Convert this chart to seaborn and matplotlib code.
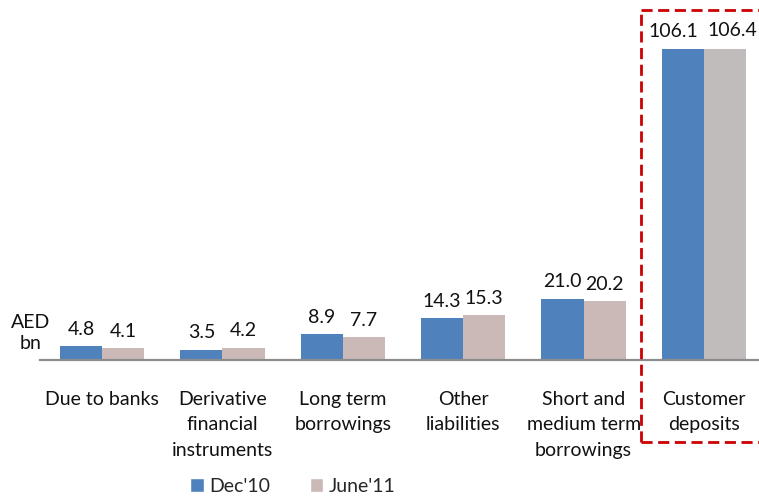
import matplotlib
matplotlib.use("Agg")
import matplotlib.pyplot as plt
import seaborn as sns
import pandas as pd
from matplotlib.lines import Line2D
from matplotlib.patches import Patch

categories = ["Due to banks", "Derivative\nfinancial\ninstruments", "Long term\nborrowings",
              "Other\nliabilities", "Short and\nmedium term\nborrowings", "Customer\ndeposits"]
periods = ["Dec'10", "June'11"]
dec10 = [4.8, 3.5, 8.9, 14.3, 21.0, 106.1]
june11 = [4.1, 4.2, 7.7, 15.3, 20.2, 106.4]

blue = "#4f81bd"
pink = "#cbb9b8"
grey = "#c0bcbb"

df = pd.DataFrame({
    "category": categories * 2,
    "period": [periods[0]] * len(categories) + [periods[1]] * len(categories),
    "value": dec10 + june11,
})

sns.set_theme(style="white")
plt.rcParams["font.family"] = ["Lato", "DejaVu Sans"]
FS = 14

fig = plt.figure(figsize=(7.59, 4.97), dpi=100)
ax = fig.add_axes([40 / 759, 137 / 497, 1 - 40 / 759, 1 - 137 / 497])

sns.barplot(data=df, x="category", y="value", hue="period", palette=[blue, pink],
            width=0.7, saturation=1, ax=ax, legend=False, linewidth=0)

# last June'11 bar is drawn in a neutral grey
june_bars = ax.containers[1]
june_bars[-1].set_facecolor(grey)

label_sets = []
for cont, vals in zip(ax.containers, [dec10, june11]):
    anns = ax.bar_label(cont, labels=[f"{v:.1f}" for v in vals], padding=6,
                        fontsize=FS, color="#111111")
    label_sets.append(anns)

# spread the two tall-bar labels apart so they don't collide
label_sets[0][-1].xyann = (-7, 7)
label_sets[1][-1].xyann = (5, 7)

ax.set_xlim(-0.515, 5.457)
ax.set_ylim(0, 123)
ax.set_xlabel("")
ax.set_ylabel("")
ax.set_yticks([])
for s in ["top", "left", "right"]:
    ax.spines[s].set_visible(False)
ax.spines["bottom"].set_color("#8c8c8c")
ax.spines["bottom"].set_linewidth(1.6)
ax.tick_params(axis="x", length=0, pad=22, labelsize=FS, colors="#111111")
for t in ax.get_xticklabels():
    t.set_linespacing(1.62)
    t.set_verticalalignment("top")

fig.text(31 / 759, 1 - 333 / 497, "AED\nbn", ha="center", va="center", fontsize=FS,
         color="#111111", linespacing=1.35)

# dashed highlight frame
x0, x1 = 641 / 759, 1.02
y0, y1 = 1 - 442 / 497, 1 - 10 / 497
frame_kw = dict(color="#cc0000", lw=2.0, linestyle=(0, (4, 2)), transform=fig.transFigure)
fig.add_artist(Line2D([x0, x1], [y1, y1], **frame_kw))
fig.add_artist(Line2D([x0, x0], [y0, y1], **frame_kw))
fig.add_artist(Line2D([x0, x1], [y0, y0], **frame_kw))

handles = [Patch(facecolor=blue, label=periods[0]), Patch(facecolor=pink, label=periods[1])]
fig.legend(handles=handles, loc="center", bbox_to_anchor=(293 / 759, 1 - 486 / 497), ncol=2,
           frameon=False, fontsize=FS, handlelength=0.7, handleheight=0.7,
           handletextpad=0.3, columnspacing=2.0)

fig.savefig("out.png", dpi=100)
